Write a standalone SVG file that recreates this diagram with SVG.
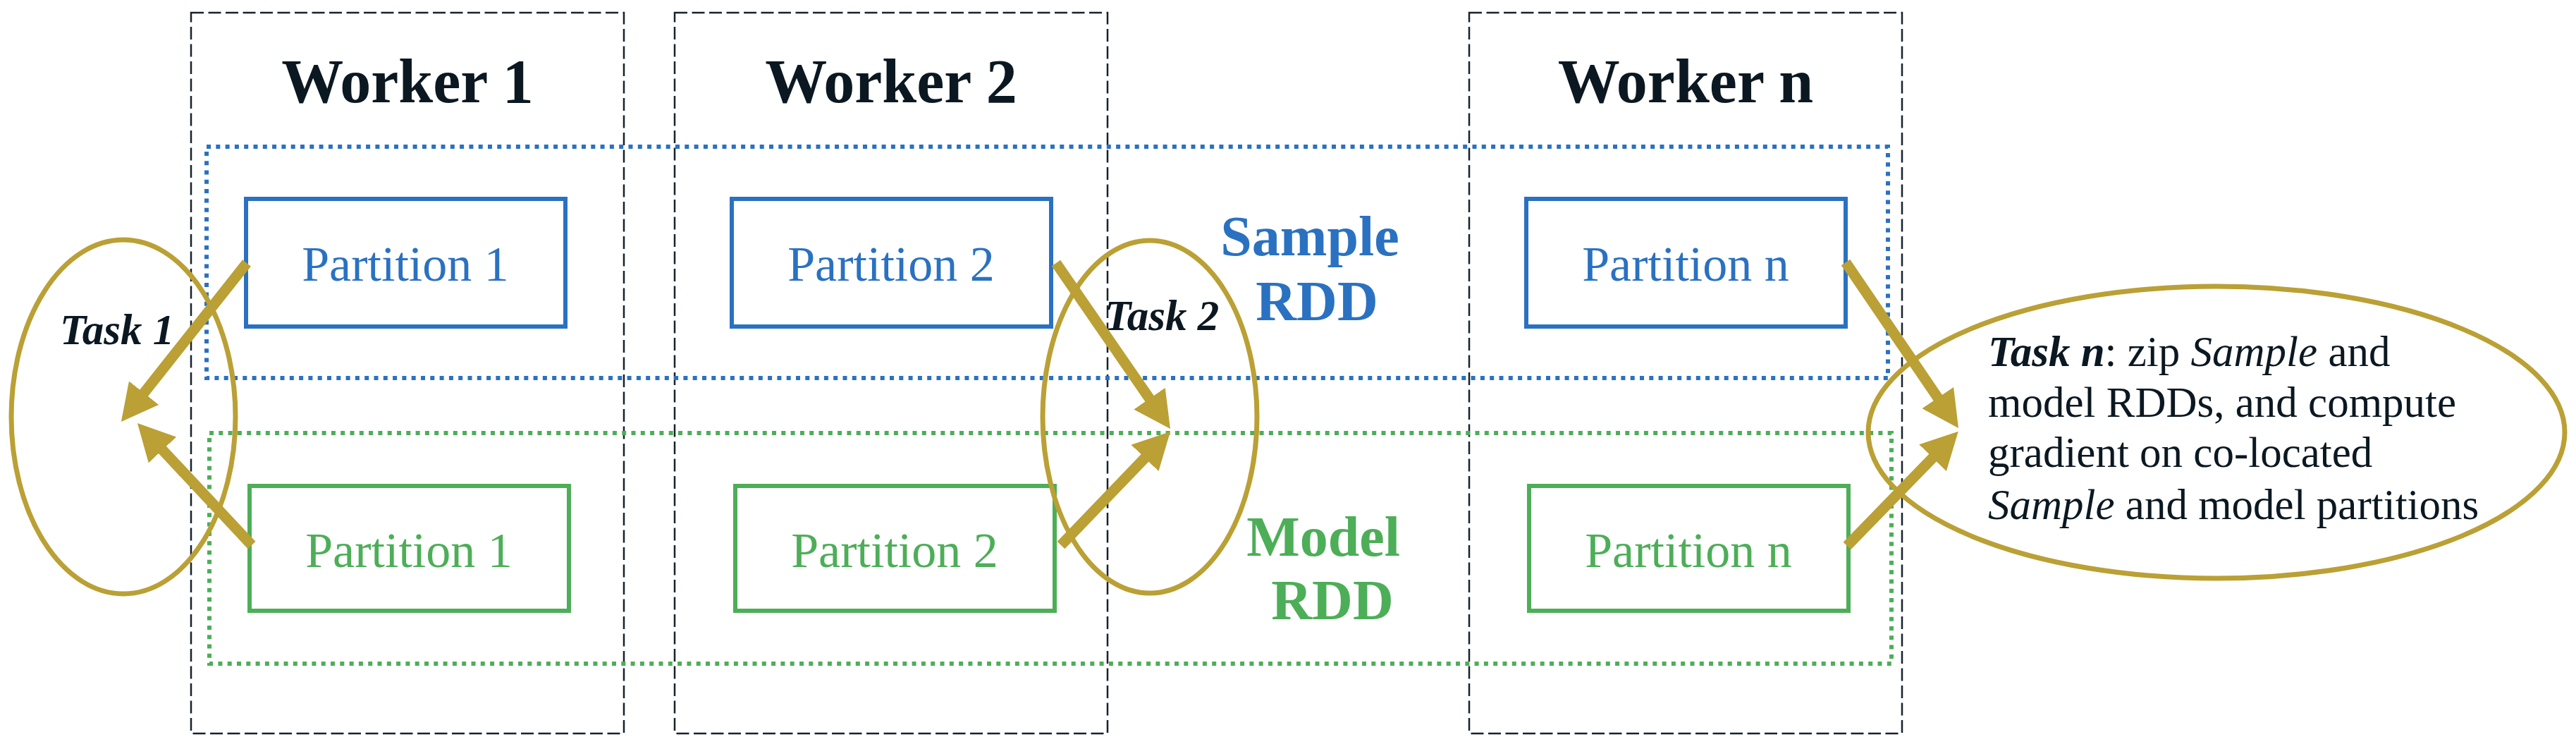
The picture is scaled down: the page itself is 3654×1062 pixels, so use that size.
<svg xmlns="http://www.w3.org/2000/svg" width="3654" height="1062" viewBox="0 0 3654 1062">
<style>
text{font-family:"Liberation Serif","Times New Roman",serif}
.worker{fill:none;stroke:#17222c;stroke-width:2.5;stroke-dasharray:18 6.5}
.wtitle{font-size:88px;font-weight:bold;fill:#0b1821;text-anchor:middle}
.rdd-s{fill:none;stroke:#2a71c1;stroke-width:6;stroke-dasharray:6 7.3}
.rdd-m{fill:none;stroke:#4dae58;stroke-width:6;stroke-dasharray:6 7.3}
.ps{fill:#fff;stroke:#2a71c1;stroke-width:6}
.pm{fill:#fff;stroke:#4dae58;stroke-width:6}
.pts{font-size:70px;fill:#2a71c1;text-anchor:middle}
.ptm{font-size:70px;fill:#4dae58;text-anchor:middle}
.rl{font-size:80px;font-weight:bold;text-anchor:middle}
.task{fill:none;stroke:#baa035;stroke-width:7}
.tl{font-size:61px;fill:#0b1821}
.arr{stroke:#baa035;stroke-width:15;fill:none;marker-end:url(#ah)}
</style>
<defs>
<marker id="ah" markerUnits="userSpaceOnUse" viewBox="0 0 52 54" markerWidth="52" markerHeight="54" refX="12" refY="27" orient="auto">
<path d="M0,0 L52,27 L0,54 z" fill="#baa035"/>
</marker>
</defs>
<rect width="3654" height="1062" fill="#fff"/>

<g id="worker-1"><rect class="worker" x="271" y="18" width="614" height="1022"/><text class="wtitle" x="578" y="145">Worker 1</text></g>
<g id="worker-2"><rect class="worker" x="957" y="18" width="614" height="1022"/><text class="wtitle" x="1264" y="145">Worker 2</text></g>
<g id="worker-n"><rect class="worker" x="2084" y="18" width="614" height="1022"/><text class="wtitle" x="2391" y="145">Worker n</text></g>

<g id="sample-rdd"><rect class="rdd-s" x="293" y="208" width="2385" height="328"/><text class="rl" fill="#2a71c1"><tspan x="1858" y="362">Sample</tspan><tspan x="1868" y="454">RDD</tspan></text></g>
<g id="model-rdd"><rect class="rdd-m" x="297" y="614" width="2386" height="327"/><text class="rl" fill="#4dae58"><tspan x="1877" y="788">Model</tspan><tspan x="1890" y="878">RDD</tspan></text></g>

<g id="sample-partition-1"><rect class="ps" x="349" y="282" width="453" height="181"/><text class="pts" x="575" y="398">Partition 1</text></g>
<g id="sample-partition-2"><rect class="ps" x="1038" y="282" width="453" height="181"/><text class="pts" x="1264" y="398">Partition 2</text></g>
<g id="sample-partition-n"><rect class="ps" x="2165" y="282" width="453" height="181"/><text class="pts" x="2391" y="398">Partition n</text></g>
<g id="model-partition-1"><rect class="pm" x="354" y="689" width="453" height="177"/><text class="ptm" x="580" y="804">Partition 1</text></g>
<g id="model-partition-2"><rect class="pm" x="1043" y="689" width="453" height="177"/><text class="ptm" x="1269" y="804">Partition 2</text></g>
<g id="model-partition-n"><rect class="pm" x="2169" y="689" width="453" height="177"/><text class="ptm" x="2395" y="804">Partition n</text></g>

<g id="task-1"><ellipse class="task" cx="175" cy="591" rx="159" ry="251"/><text class="tl" x="85" y="488" font-weight="bold" font-style="italic">Task 1</text></g>
<g id="task-2"><ellipse class="task" cx="1631" cy="591" rx="152" ry="250"/><text class="tl" x="1567" y="468" font-weight="bold" font-style="italic">Task 2</text></g>
<g id="task-n"><ellipse class="task" cx="3144" cy="613" rx="494" ry="207"/>
<text class="tl"><tspan x="2820" y="519"><tspan font-weight="bold" font-style="italic">Task n</tspan>: zip <tspan font-style="italic">Sample</tspan> and</tspan><tspan x="2820" y="591">model RDDs, and compute</tspan><tspan x="2820" y="662">gradient on co-located</tspan><tspan x="2820" y="736"><tspan font-style="italic">Sample</tspan> and model partitions</tspan></text></g>

<g id="connectors">
<line class="arr" x1="350" y1="373" x2="196.7" y2="566.6"/>
<line class="arr" x1="357" y1="773" x2="222.3" y2="629.2"/>
<line class="arr" x1="1498" y1="373" x2="1637.3" y2="575.1"/>
<line class="arr" x1="1505" y1="773" x2="1632.3" y2="640.8"/>
<line class="arr" x1="2618" y1="372" x2="2755.5" y2="573.9"/>
<line class="arr" x1="2620" y1="774" x2="2749.9" y2="640.5"/>
</g>
</svg>
